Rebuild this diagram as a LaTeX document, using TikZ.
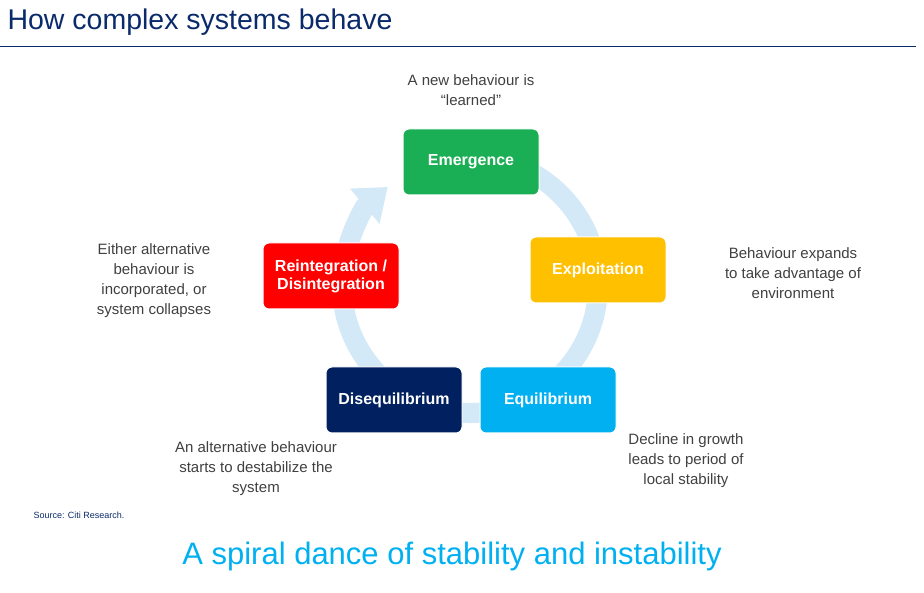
\documentclass[tikz,border=0pt]{standalone}
\usepackage{fontspec}
\setmainfont{Liberation Sans}
\usetikzlibrary{arrows.meta}
\definecolor{ttl}{HTML}{0A2A6B}
\definecolor{ring}{HTML}{D3E9F8}
\definecolor{gry}{HTML}{404040}
\begin{document}
\begin{tikzpicture}[x=1pt,y=-1pt,
  box/.style={draw=white,line width=1pt,rounded corners=6pt,minimum width=136pt,minimum height=66pt,text=white,font=\fontsize{16}{18}\selectfont\bfseries,align=center},
  note/.style={text=gry,font=\fontsize{15}{20}\selectfont,align=center}]
\useasboundingbox (0,0) rectangle (924,593);
\node[anchor=west,text=ttl,font=\fontsize{28.5}{31}\selectfont] (title) at (4,22) {How complex systems behave};
\coordinate (l1) at (0,46); \coordinate (l2) at (916,46);
\draw[ttl,line width=0.8pt] (l1) -- (l2);
\draw[ring,line width=20pt,-{Triangle[length=30pt,width=44pt]}] (470,285) ++(-80:128) arc[start angle=-80,end angle=230,radius=128];
\node[box,fill={rgb,255:red,26;green,175;blue,84}] (em) at (471,162) {Emergence};
\node[box,fill={rgb,255:red,255;green,192;blue,0}] (ex) at (598,270) {Exploitation};
\node[box,fill={rgb,255:red,0;green,176;blue,240}] (eq) at (548,400) {Equilibrium};
\node[box,fill={rgb,255:red,0;green,32;blue,96}] (dq) at (394,400) {Disequilibrium};
\node[box,fill={rgb,255:red,255;green,0;blue,0}] (re) at (331,276) {Reintegration /\\Disintegration};
\node[note] (n1) at (471,90) {A new behaviour is\\“learned”};
\node[note] (n2) at (793,273) {Behaviour expands\\to take advantage of\\environment};
\node[note] (n3) at (686,461) {Decline in growth\\leads to period of\\local stability};
\node[note] (n4) at (256,469) {An alternative behaviour\\starts to destabilize the\\system};
\node[note] (n5) at (154,281) {Either alternative\\behaviour is\\incorporated, or\\system collapses};
\node[anchor=west,text=ttl,font=\fontsize{9}{11}\selectfont] (src) at (30,515) {Source: Citi Research.};
\node[text={rgb,255:red,0;green,176;blue,240},font=\fontsize{31}{34}\selectfont] (ft) at (452,556) {A spiral dance of stability and instability};
\end{tikzpicture}
\end{document}
